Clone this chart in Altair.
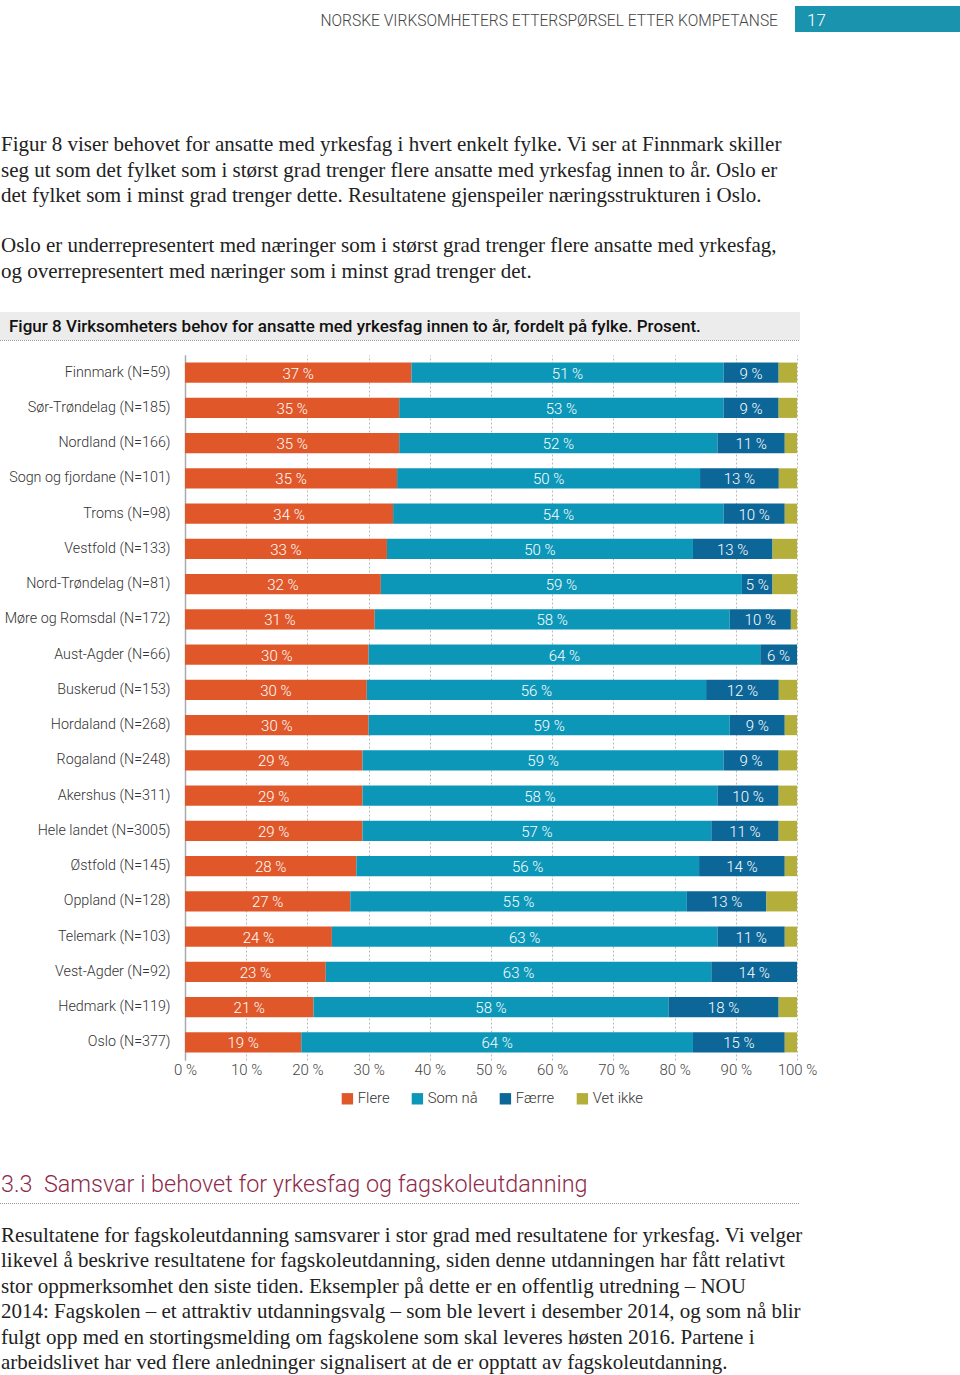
import altair as alt
import pandas as pd

regions = ["Finnmark (N=59)", "Sør-Trøndelag (N=185)", "Nordland (N=166)", "Sogn og fjordane (N=101)",
           "Troms (N=98)", "Vestfold (N=133)", "Nord-Trøndelag (N=81)", "Møre og Romsdal (N=172)",
           "Aust-Agder (N=66)", "Buskerud (N=153)", "Hordaland (N=268)", "Rogaland (N=248)",
           "Akershus (N=311)", "Hele landet (N=3005)", "Østfold (N=145)", "Oppland (N=128)",
           "Telemark (N=103)", "Vest-Agder (N=92)", "Hedmark (N=119)", "Oslo (N=377)"]
flere = [37, 35, 35, 35, 34, 33, 32, 31, 30, 30, 30, 29, 29, 29, 28, 27, 24, 23, 21, 19]
som_na = [51, 53, 52, 50, 54, 50, 59, 58, 64, 56, 59, 59, 58, 57, 56, 55, 63, 63, 58, 64]
faerre = [9, 9, 11, 13, 10, 13, 5, 10, 6, 12, 9, 9, 10, 11, 14, 13, 11, 14, 18, 15]
vet_ikke = [3, 3, 2, 3, 2, 4, 4, 1, 0, 3, 2, 3, 3, 3, 2, 5, 2, 0, 3, 2]

categories = ["Flere", "Som nå", "Færre", "Vet ikke"]
colors = ["#E0582A", "#0C97B9", "#0C6698", "#B4AE3B"]
tick_values = [0, 0.1, 0.2, 0.3, 0.4, 0.5, 0.6, 0.7, 0.8, 0.9, 1.0]

header_text = "NORSKE VIRKSOMHETERS ETTERSPØRSEL ETTER KOMPETANSE"
page_number = "17"
para1 = ("Figur 8 viser behovet for ansatte med yrkesfag i hvert enkelt fylke. Vi ser at Finnmark skiller\n"
         "seg ut som det fylket som i størst grad trenger flere ansatte med yrkesfag innen to år. Oslo er\n"
         "det fylket som i minst grad trenger dette. Resultatene gjenspeiler næringsstrukturen i Oslo.")
para2 = ("Oslo er underrepresentert med næringer som i størst grad trenger flere ansatte med yrkesfag,\n"
         "og overrepresentert med næringer som i minst grad trenger det.")
fig_title = "Figur 8 Virksomheters behov for ansatte med yrkesfag innen to år, fordelt på fylke. Prosent."
section_title = "3.3\u00a0\u00a0Samsvar i behovet for yrkesfag og fagskoleutdanning"
para3 = ("Resultatene for fagskoleutdanning samsvarer i stor grad med resultatene for yrkesfag. Vi velger\n"
         "likevel å beskrive resultatene for fagskoleutdanning, siden denne utdanningen har fått relativt\n"
         "stor oppmerksomhet den siste tiden. Eksempler på dette er en offentlig utredning – NOU\n"
         "2014: Fagskolen – et attraktiv utdanningsvalg – som ble levert i desember 2014, og som nå blir\n"
         "fulgt opp med en stortingsmelding om fagskolene som skal leveres høsten 2016. Partene i\n"
         "arbeidslivet har ved flere anledninger signalisert at de er opptatt av fagskoleutdanning.")

rows = []
for i, r in enumerate(regions):
    for j, (cat, vals) in enumerate(zip(categories, [flere, som_na, faerre, vet_ikke])):
        rows.append({"region": r, "cat": cat, "order": j, "value": vals[i]})
df = pd.DataFrame(rows)

# plot area origin in page coords
OX, OY = 185, 355
W, H = 612, 705
SANS = "Roboto"
SERIF = "Liberation Serif"

base = alt.Chart(df).transform_stack(
    stack="value", groupby=["region"], sort=[alt.SortField("order")], as_=["v0", "v1"], offset="normalize"
)

ysc = alt.Scale(domain=regions, paddingInner=0.43, paddingOuter=0.215)

bars = base.mark_bar().encode(
    y=alt.Y("region:N", sort=regions, scale=ysc,
            axis=alt.Axis(title=None, ticks=False, domain=True, domainColor="#aaaaaa", domainWidth=1.5,
                          labelPadding=15, labelFontSize=14.3, labelFont=SANS, labelFontWeight=300,
                          labelColor="#333333", grid=False, labelLimit=200)),
    x=alt.X("v0:Q", scale=alt.Scale(domain=[0, 1], nice=False),
            axis=alt.Axis(title=None, values=tick_values, labelExpr="round(datum.value*100) + ' %'",
                          grid=True, gridDash=[2, 2], gridColor="#bbbbbb", gridWidth=1,
                          domain=False, ticks=False, labelFontSize=15, labelFont=SANS,
                          labelFontWeight=300, labelColor="#444444", labelPadding=2,
                          labelFlush=False)),
    x2="v1:Q",
    color=alt.Color("cat:N", scale=alt.Scale(domain=categories, range=colors),
                    legend=alt.Legend(title=None, orient="none", legendX=155, legendY=736,
                                      direction="horizontal", symbolType="square", symbolSize=130,
                                      symbolStrokeWidth=0, symbolOpacity=1, labelFontSize=14.8,
                                      labelFont=SANS, labelFontWeight=300, labelColor="#333333",
                                      columnPadding=20, labelOffset=3, padding=0)),
)

labels = base.transform_filter(alt.datum.cat != "Vet ikke").transform_calculate(
    mid="(datum.v0 + datum.v1) / 2", lab="datum.value + ' %'"
).mark_text(color="white", fontSize=15, font=SANS, fontWeight=300, baseline="middle", dy=1).encode(
    y=alt.Y("region:N", sort=regions, scale=ysc),
    x=alt.X("mid:Q"),
    text="lab:N",
)

one = pd.DataFrame({"k": [0]})


def rect(x0, y0, x1, y1, color):
    return alt.Chart(one).mark_rect(color=color).encode(
        x=alt.value(x0 - OX), x2=alt.value(x1 - OX), y=alt.value(y0 - OY), y2=alt.value(y1 - OY))


def hline(x0, x1, y, color="#999999", dash=[1, 1]):
    return alt.Chart(one).mark_rule(color=color, strokeDash=dash, strokeWidth=1).encode(
        x=alt.value(x0 - OX), x2=alt.value(x1 - OX), y=alt.value(y - OY))


def txt(text, x, y, size, font, color, weight=400, line_height=None, baseline="alphabetic", align="left"):
    kw = dict(text=text, fontSize=size, font=font, color=color, fontWeight=weight, align=align,
              baseline=baseline, lineBreak="\n")
    if line_height:
        kw["lineHeight"] = line_height
    return alt.Chart(one).mark_text(**kw).encode(x=alt.value(x - OX), y=alt.value(y - OY))


layers = [
    rect(795, 6, 960, 32, "#1A93AE"),
    txt(header_text, 778, 26, 15.6, SANS, "#444444", 300, align="right"),
    txt(page_number, 807, 26, 17, SANS, "white", 300),
    txt(para1, 1, 151, 21, SERIF, "#222222", 400, 25.5),
    txt(para2, 1, 252, 21, SERIF, "#222222", 400, 25.5),
    rect(0, 312, 800, 340, "#ECECEC"),
    hline(0, 800, 340.5),
    txt(fig_title, 9, 332, 17, SANS, "#111111", 500),
    bars,
    labels,
    txt(section_title, 1, 1192, 23.4, SANS, "#8E2A4A", 300),
    hline(0, 800, 1203.5),
    txt(para3, 1, 1242, 21, SERIF, "#222222", 400, 25.4),
]

chart = alt.layer(*layers).properties(
    width=W, height=H,
    padding={"left": OX, "top": OY, "right": 960 - OX - W, "bottom": 1375 - OY - H},
    autosize=alt.AutoSizeParams(type="none"),
    background="white",
).configure_view(stroke=None)

chart.save("out.html", embed_options={"renderer": "svg", "actions": False})
